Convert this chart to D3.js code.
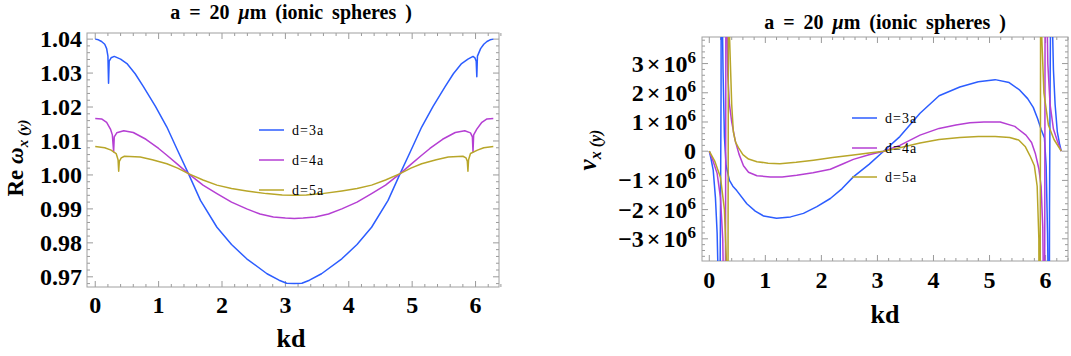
<!DOCTYPE html>
<html>
<head>
<meta charset="utf-8">
<script src="https://cdn.jsdelivr.net/npm/d3@7"></script>
<style>
  body { margin: 0; background: #fff; }
</style>
</head>
<body>
<svg id="chart" width="1071" height="356"></svg>
<script>
// tick labels
var kdTicks = [0, 1, 2, 3, 4, 5, 6];
var reTicks = [0.97, 0.98, 0.99, 1.00, 1.01, 1.02, 1.03, 1.04];
var vTicks = [-3, -2, -1, 0, 1, 2, 3];   // units of 10^6
var legendLabels = ["d=3a", "d=4a", "d=5a"];
var colors = ["#2c5dff", "#b53fd3", "#b8a629"];

// Re omega_x(y) vs kd
var reD3 = [[0,1.04],[0.05,1.0398],[0.1,1.0393],[0.15,1.0385],[0.18,1.0372],[0.2,1.035],[0.21,1.027],[0.22,1.0335],[0.25,1.0345],[0.3,1.0349],[0.4,1.0341],[0.5,1.0328],[0.63,1.0298],[0.76,1.026],[0.95,1.0202],[1.13,1.0141],[1.3,1.0072],[1.47,1.0004],[1.66,0.9925],[1.92,0.9846],[2.15,0.9795],[2.39,0.9753],[2.71,0.9709],[2.9,0.969],[3.02,0.9681],[3.14,0.968],[3.26,0.9681],[3.38,0.969],[3.57,0.9709],[3.89,0.9753],[4.13,0.9795],[4.36,0.9846],[4.62,0.9925],[4.81,1.0004],[4.98,1.0072],[5.15,1.0141],[5.33,1.0202],[5.52,1.026],[5.65,1.0298],[5.78,1.0328],[5.88,1.0341],[5.96,1.0349],[5.99,1.0345],[6.01,1.0335],[6.02,1.0289],[6.03,1.035],[6.08,1.0372],[6.13,1.0385],[6.18,1.0393],[6.23,1.0398],[6.28,1.04]];
var reD4 = [[0,1.0166],[0.1,1.0165],[0.18,1.0155],[0.24,1.0135],[0.27,1.0118],[0.29,1.0068],[0.3,1.0112],[0.34,1.0124],[0.45,1.013],[0.6,1.0125],[0.8,1.0105],[1.0,1.0078],[1.13,1.0058],[1.3,1.0031],[1.47,1.0004],[1.7,0.997],[1.92,0.9945],[2.15,0.992],[2.39,0.99],[2.6,0.9885],[2.81,0.9876],[3.0,0.9873],[3.14,0.9872],[3.28,0.9873],[3.47,0.9876],[3.68,0.9885],[3.89,0.99],[4.13,0.992],[4.36,0.9945],[4.58,0.997],[4.81,1.0004],[4.98,1.0031],[5.15,1.0058],[5.28,1.0078],[5.48,1.0105],[5.68,1.0125],[5.83,1.013],[5.92,1.0124],[5.95,1.0112],[5.96,1.0068],[5.97,1.0118],[6.02,1.0135],[6.1,1.0155],[6.18,1.0165],[6.28,1.0166]];
var reD5 = [[0,1.0084],[0.15,1.008],[0.25,1.0073],[0.33,1.0063],[0.36,1.0045],[0.37,1.0011],[0.38,1.004],[0.41,1.005],[0.46,1.0055],[0.71,1.0053],[0.9,1.0045],[1.13,1.0033],[1.3,1.002],[1.47,1.0004],[1.7,0.9985],[1.92,0.997],[2.15,0.996],[2.39,0.9953],[2.7,0.9945],[2.95,0.9941],[3.14,0.994],[3.33,0.9941],[3.58,0.9945],[3.89,0.9953],[4.13,0.996],[4.36,0.997],[4.58,0.9985],[4.81,1.0004],[4.98,1.002],[5.15,1.0033],[5.38,1.0045],[5.57,1.0053],[5.8,1.0055],[5.85,1.005],[5.87,1.004],[5.88,1.0011],[5.89,1.0045],[5.92,1.0063],[6.03,1.0073],[6.13,1.008],[6.28,1.0084]];

// v_x(y) vs kd (units of 10^6)
var vD3 = [[0,0],[0.03,-0.25],[0.07,-0.65],[0.11,-1.6],[0.14,-2.8],[0.16,-4.5],[0.175,-20],[0.19,-5],[0.2,-2],[0.21,2],[0.22,20],[0.23,5],[0.245,2.8],[0.27,0.5],[0.3,-0.5],[0.36,-1.0],[0.42,-1.2],[0.49,-1.35],[0.67,-1.8],[0.82,-2.05],[0.97,-2.22],[1.2,-2.3],[1.45,-2.25],[1.68,-2.13],[1.92,-1.9],[2.16,-1.62],[2.37,-1.28],[2.57,-0.88],[2.85,-0.45],[3.11,0],[3.4,0.5],[3.76,1.3],[4.1,1.9],[4.47,2.2],[4.8,2.38],[5.1,2.45],[5.35,2.35],[5.54,2.09],[5.68,1.8],[5.78,1.5],[5.86,1.1],[5.92,0.75],[5.98,0.45],[6.01,-0.5],[6.035,-2.8],[6.05,-5],[6.06,-20],[6.07,-2],[6.08,2],[6.09,5],[6.105,20],[6.12,4.5],[6.14,2.8],[6.17,1.6],[6.21,0.65],[6.25,0.25],[6.28,0]];
var vD4 = [[0,0],[0.07,-0.35],[0.14,-0.76],[0.2,-1.6],[0.24,-3],[0.265,-6],[0.28,-20],[0.29,-3],[0.295,3],[0.3,20],[0.31,6],[0.33,2.6],[0.36,1.6],[0.4,1.0],[0.46,0.38],[0.53,-0.1],[0.61,-0.5],[0.7,-0.72],[0.85,-0.84],[1.09,-0.88],[1.3,-0.88],[1.56,-0.82],[1.85,-0.74],[2.16,-0.62],[2.4,-0.42],[2.57,-0.28],[2.85,-0.12],[3.11,0],[3.4,0.2],[3.76,0.55],[4.1,0.78],[4.4,0.9],[4.65,0.97],[4.9,1.0],[5.19,1.0],[5.45,0.85],[5.65,0.55],[5.75,0.3],[5.82,-0.1],[5.88,-0.6],[5.92,-1.2],[5.95,-2.6],[5.97,-6],[5.98,-20],[5.985,-3],[5.99,3],[6.0,20],[6.015,6],[6.04,3],[6.08,1.6],[6.14,0.76],[6.21,0.35],[6.28,0]];
var vD5 = [[0,0],[0.1,-0.35],[0.2,-0.9],[0.27,-2],[0.31,-4],[0.33,-20],[0.335,-3],[0.34,3],[0.345,20],[0.36,4],[0.4,1.6],[0.43,0.65],[0.47,0.3],[0.52,0.12],[0.6,-0.12],[0.7,-0.27],[0.85,-0.36],[1.05,-0.41],[1.26,-0.43],[1.55,-0.38],[1.86,-0.31],[2.2,-0.22],[2.57,-0.13],[2.85,-0.06],[3.11,0],[3.4,0.12],[3.76,0.28],[4.1,0.4],[4.47,0.47],[4.8,0.5],[5.1,0.5],[5.36,0.47],[5.52,0.38],[5.64,0.15],[5.72,-0.15],[5.8,-0.5],[5.85,-1.2],[5.88,-3],[5.9,-20],[5.905,-3],[5.91,3],[5.915,20],[5.93,4],[5.97,2],[6.05,0.9],[6.15,0.4],[6.28,0]];

var serif = "Liberation Serif";
var svg = d3.select("#chart");

// draws the box with inward ticks on all four sides
function drawFrame(g, x, y, xMinor, yMinor) {
  var x0 = x.range()[0], x1 = x.range()[1];
  var y0 = y.range()[0], y1 = y.range()[1];
  var ticks = g.append("g").attr("stroke", "#9a9a9a").attr("stroke-width", 1);
  xMinor.forEach(function(d) {
    var major = Math.abs(d - Math.round(d)) < 1e-6;
    var len = major ? 6 : 3;
    ticks.append("line").attr("x1", x(d)).attr("x2", x(d)).attr("y1", y0).attr("y2", y0 - len);
    ticks.append("line").attr("x1", x(d)).attr("x2", x(d)).attr("y1", y1).attr("y2", y1 + len);
  });
  yMinor.forEach(function(d) {
    var len = d.major ? 6 : 3;
    ticks.append("line").attr("x1", x0).attr("x2", x0 + len).attr("y1", y(d.v)).attr("y2", y(d.v));
    ticks.append("line").attr("x1", x1).attr("x2", x1 - len).attr("y1", y(d.v)).attr("y2", y(d.v));
  });
  g.append("rect")
    .attr("x", x0).attr("y", y1)
    .attr("width", x1 - x0).attr("height", y0 - y1)
    .attr("fill", "none").attr("stroke", "#a0a0a0").attr("stroke-width", 1);
}

function drawSeries(g, id, x, y, seriesList) {
  var x0 = x.range()[0], x1 = x.range()[1];
  var y0 = y.range()[0], y1 = y.range()[1];
  g.append("clipPath").attr("id", id)
    .append("rect").attr("x", x0).attr("y", y1).attr("width", x1 - x0).attr("height", y0 - y1);
  var line = d3.line().x(d => x(d[0])).y(d => y(d[1]));
  g.append("g").attr("clip-path", "url(#" + id + ")")
    .selectAll("path")
    .data(seriesList)
    .enter().append("path")
    .attr("d", line)
    .attr("fill", "none")
    .attr("stroke", (d, i) => colors[i])
    .attr("stroke-width", 1.5)
    .attr("stroke-linejoin", "round");
}

function drawLegend(g, lx, ly) {
  legendLabels.forEach(function(lab, i) {
    g.append("line")
      .attr("x1", lx).attr("x2", lx + 25)
      .attr("y1", ly[i]).attr("y2", ly[i])
      .attr("stroke", colors[i]).attr("stroke-width", 1.5);
    g.append("text")
      .attr("x", lx + 33).attr("y", ly[i] + 5)
      .attr("font-size", 14).attr("letter-spacing", 1)
      .text(lab);
  });
}

function drawTitle(g, cx, cy) {
  var t = g.append("text")
    .attr("x", cx).attr("y", cy)
    .attr("text-anchor", "middle")
    .attr("font-size", 20).attr("font-weight", "bold")
    .attr("word-spacing", 4);
  t.append("tspan").text("a = 20 ");
  t.append("tspan").attr("font-style", "italic").text("\u03bc");
  t.append("tspan").text("m (ionic spheres )");
}

var minorKd = d3.range(0, 6.41, 0.2).map(d => Math.round(d * 10) / 10);

// ---------- left panel ----------
var gL = svg.append("g");
var xL = d3.scaleLinear().domain([-0.13, 6.37]).range([87, 499]);
var yL = d3.scaleLinear().domain([0.967, 1.0418]).range([287, 33]);
var yMinorL = d3.range(0.968, 1.0418, 0.002).map(function(v) {
  v = Math.round(v * 1000) / 1000;
  return { v: v, major: Math.abs(v * 100 - Math.round(v * 100)) < 1e-6 };
});
drawFrame(gL, xL, yL, minorKd, yMinorL);
drawSeries(gL, "clipL", xL, yL, [reD3, reD4, reD5]);

gL.selectAll(".ytl").data(reTicks).enter().append("text")
  .attr("x", 82).attr("y", d => yL(d) + 8)
  .attr("text-anchor", "end")
  .attr("font-size", 24).attr("font-weight", "bold")
  .text(d => d.toFixed(2));
gL.selectAll(".xtl").data(kdTicks).enter().append("text")
  .attr("x", d => xL(d)).attr("y", 313)
  .attr("text-anchor", "middle")
  .attr("font-size", 24).attr("font-weight", "bold")
  .text(d => d);
gL.append("text").attr("x", 291).attr("y", 347)
  .attr("text-anchor", "middle").attr("font-size", 26).attr("font-weight", "bold").text("kd");

var ylab = gL.append("text")
  .attr("transform", "translate(23,158) rotate(-90)")
  .attr("text-anchor", "middle")
  .attr("font-size", 23).attr("font-weight", "bold");
ylab.append("tspan").text("Re ");
ylab.append("tspan").attr("font-style", "italic").text("\u03c9");
ylab.append("tspan").attr("font-style", "italic").attr("font-size", 15).attr("dy", 5).text("x (y)");

drawTitle(gL, 291, 19);
drawLegend(gL, 259, [130, 160, 190]);

// ---------- right panel ----------
var gR = svg.append("g");
var xR = d3.scaleLinear().domain([-0.13, 6.4]).range([702, 1068]);
var yR = d3.scaleLinear().domain([-3.76, 3.91]).range([261, 37]);
var yMinorR = d3.range(-3.6, 3.81, 0.2).map(function(v) {
  v = Math.round(v * 10) / 10;
  return { v: v, major: Math.abs(v - Math.round(v)) < 1e-6 };
});
drawFrame(gR, xR, yR, minorKd, yMinorR);
drawSeries(gR, "clipR", xR, yR, [vD3, vD4, vD5]);

vTicks.forEach(function(d) {
  var t = gR.append("text")
    .attr("x", 696).attr("y", yR(d) + 8)
    .attr("text-anchor", "end")
    .attr("font-size", 24).attr("font-weight", "bold");
  if (d === 0) { t.text("0"); return; }
  t.append("tspan").text((d < 0 ? "\u2212" : "") + Math.abs(d));
  t.append("tspan").attr("dx", 3).text("\u00d7");
  t.append("tspan").attr("dx", 3).text("10");
  t.append("tspan").attr("font-size", 17).attr("dy", -9).text("6");
});
gR.selectAll(".xtl").data(kdTicks).enter().append("text")
  .attr("x", d => xR(d)).attr("y", 288)
  .attr("text-anchor", "middle")
  .attr("font-size", 24).attr("font-weight", "bold")
  .text(d => d);
gR.append("text").attr("x", 885).attr("y", 323)
  .attr("text-anchor", "middle").attr("font-size", 26).attr("font-weight", "bold").text("kd");

var vlab = gR.append("text")
  .attr("transform", "translate(596,150) rotate(-90)")
  .attr("text-anchor", "middle")
  .attr("font-size", 25).attr("font-weight", "bold");
vlab.append("tspan").attr("font-style", "italic").text("v");
vlab.append("tspan").attr("font-style", "italic").attr("font-size", 16).attr("dy", 5).text("x (y)");

drawTitle(gR, 885, 29);
drawLegend(gR, 852, [118, 148, 177]);

// every label in a Times-like face
svg.selectAll("text").attr("font-family", serif).style("font-family", serif);
</script>
</body>
</html>
